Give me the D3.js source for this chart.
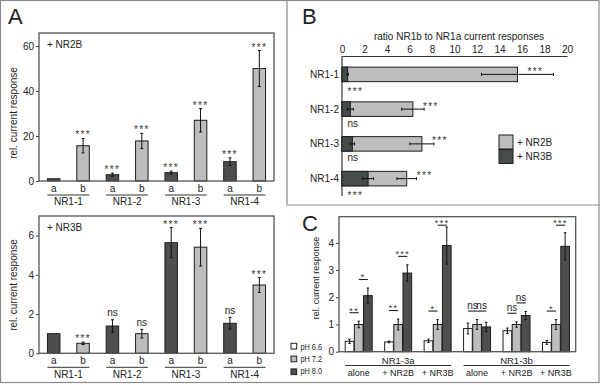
<!DOCTYPE html>
<html lang="en">
<head>
<meta charset="utf-8">
<title>NR1 splice variants: current responses</title>
<script src="https://cdn.jsdelivr.net/npm/d3@7"></script>
<style>
  body { margin: 0; background: #fff; }
  svg { display: block; font-family: Arial, "Liberation Sans", sans-serif; }
</style>
</head>
<body>
<script>
// ---- data ----
var isoforms = ["NR1-1", "NR1-2", "NR1-3", "NR1-4"];
var variants = ["a", "b"];

// panel A, + NR2B
var nr2bMeanA = [1.0, 2.8, 3.7, 8.6];
var nr2bErrA  = [0.0, 0.7, 0.7, 1.7];
var nr2bSigA  = ["", "***", "***", "***"];
var nr2bMeanB = [15.7, 17.8, 27.0, 50.0];
var nr2bErrB  = [3.2, 3.4, 5.2, 8.0];
var nr2bSigB  = ["***", "***", "***", "***"];

// panel A, + NR3B
var nr3bMeanA = [1.0, 1.39, 5.64, 1.53];
var nr3bErrA  = [0.0, 0.32, 0.77, 0.30];
var nr3bSigA  = ["", "ns", "***", "ns"];
var nr3bMeanB = [0.51, 1.0, 5.41, 3.48];
var nr3bErrB  = [0.06, 0.22, 0.96, 0.38];
var nr3bSigB  = ["***", "ns", "***", "***"];

// panel B, ratio NR1b / NR1a
var ratioNR2B    = [15.6, 6.3, 7.1, 5.75];
var ratioNR2BErr = [3.2, 1.0, 1.07, 0.87];
var ratioNR2BSig = ["***", "***", "***", "***"];
var ratioNR3B    = [0.5, 0.74, 0.92, 2.32];
var ratioNR3BErr = [0.06, 0.27, 0.2, 0.48];
var ratioNR3BSig = ["***", "ns", "ns", "***"];
var ratioTicks = [0, 2, 4, 6, 8, 10, 12, 14, 16, 18, 20];

// panel C, pH dependence
var subunitsC  = ["NR1-3a", "NR1-3b"];
var conditions = ["alone", "+ NR2B", "+ NR3B", "alone", "+ NR2B", "+ NR3B"];
var phLevels   = ["pH 6.6", "pH 7.2", "pH 8.0"];
var ph66    = [0.38, 0.36, 0.40, 0.85, 0.77, 0.34];
var ph66Err = [0.08, 0.03, 0.06, 0.20, 0.10, 0.07];
var ph72    = [1.0, 1.0, 1.0, 1.0, 1.0, 1.0];
var ph72Err = [0.12, 0.20, 0.18, 0.18, 0.10, 0.18];
var ph80    = [2.06, 2.89, 3.90, 0.91, 1.33, 3.87];
var ph80Err = [0.28, 0.30, 0.68, 0.17, 0.15, 0.50];
var sig66vs72 = ["**", "**", "*", "ns", "ns", "*"];
var sig72vs80 = ["*", "***", "***", "ns", "ns", "***"];

// ---- setup ----
var w = 600, h = 385;
var lightFill = "#bdbdbd", darkFill = "#4e4e4e", edge = "#1e1e1e", ink = "#222";
var intFmt = d3.format("d");

var svg = d3.select("body").append("svg")
  .attr("width", w)
  .attr("height", h);

// figure border and panel dividers
svg.append("rect")
  .attr("x", 0.5).attr("y", 0.5)
  .attr("width", 598.5).attr("height", 382)
  .attr("fill", "none").attr("stroke", "#8a8a8a").attr("stroke-width", 1.2);
svg.append("path")
  .attr("d", "M287,0V205H600")
  .attr("fill", "none").attr("stroke", "#8a8a8a").attr("stroke-width", 1.2);

function panelLetter(letter, x, y) {
  svg.append("text").attr("x", x).attr("y", y)
    .attr("font-size", 22).attr("fill", ink).text(letter);
}

// place a significance label so its visible centre sits at cy
function sigLabel(g, label, x, cy, size, anchor) {
  if (!label) return;
  var star = label.indexOf("*") >= 0;
  g.append("text")
    .attr("x", x)
    .attr("y", cy + (star ? 0.6 : 0.27) * size)
    .attr("text-anchor", anchor || "middle")
    .attr("font-size", size)
    .attr("letter-spacing", star ? 1.4 : 0)
    .attr("fill", star ? "#333" : ink)
    .text(label);
}

function styleAxis(sel, size) {
  sel.selectAll("text").attr("font-size", size).attr("fill", ink).attr("font-family", null);
  sel.selectAll("line").attr("stroke", "#444");
}

function yLabel(text, x, cy, size) {
  svg.append("text")
    .attr("transform", "translate(" + x + "," + cy + ") rotate(-90)")
    .attr("text-anchor", "middle")
    .attr("font-size", size)
    .attr("fill", ink)
    .text(text);
}

// ---- panel A ----
function drawA(top, bottom, yMax, ticks, means, errs, sigs, title, labelY) {
  var left = 39, right = 274;
  var x = d3.scaleBand().domain(isoforms).range([left, right]);
  var xs = d3.scalePoint().domain(variants).range([0, x.bandwidth()]).padding(0.5);
  var y = d3.scaleLinear().domain([0, yMax]).range([bottom, top]);
  var bw = 12.5;
  var g = svg.append("g");

  var rows = [];
  isoforms.forEach(function(c, i) {
    variants.forEach(function(v, j) {
      rows.push({ cat: c, sub: v, v: means[j][i], e: errs[j][i], sig: sigs[j][i] });
    });
  });

  var ax = g.append("g")
    .attr("transform", "translate(" + left + ",0)")
    .call(d3.axisLeft(y).tickValues(ticks).tickFormat(intFmt).tickSize(3).tickPadding(2));
  ax.select(".domain").remove();
  styleAxis(ax, 10);

  g.selectAll("rect.bar")
    .data(rows)
    .enter()
    .append("rect")
    .attr("class", "bar")
    .attr("x", function(d) { return x(d.cat) + xs(d.sub) - bw / 2; })
    .attr("y", function(d) { return y(d.v); })
    .attr("width", bw)
    .attr("height", function(d) { return bottom - y(d.v); })
    .attr("fill", function(d) { return d.sub === "a" ? darkFill : lightFill; })
    .attr("stroke", edge)
    .attr("stroke-width", 1);

  var eb = rows.filter(function(d) { return d.e > 0; });
  g.selectAll("line.err")
    .data(eb)
    .enter()
    .append("line")
    .attr("class", "err")
    .attr("x1", function(d) { return x(d.cat) + xs(d.sub); })
    .attr("x2", function(d) { return x(d.cat) + xs(d.sub); })
    .attr("y1", function(d) { return y(d.v + d.e); })
    .attr("y2", function(d) { return y(d.v - d.e); })
    .attr("stroke", "#111").attr("stroke-width", 1);
  eb.forEach(function(d) {
    var cx = x(d.cat) + xs(d.sub);
    [d.v + d.e, d.v - d.e].forEach(function(val) {
      g.append("line")
        .attr("x1", cx - 1.5).attr("x2", cx + 1.5)
        .attr("y1", y(val)).attr("y2", y(val))
        .attr("stroke", "#111").attr("stroke-width", 1);
    });
  });

  rows.forEach(function(d) {
    sigLabel(g, d.sig, x(d.cat) + xs(d.sub), y(d.v + d.e) - 6, 10);
  });

  // plot frame
  g.append("rect")
    .attr("x", left).attr("y", top)
    .attr("width", right - left).attr("height", bottom - top)
    .attr("fill", "none").attr("stroke", "#555").attr("stroke-width", 1.3);

  // category labels
  rows.forEach(function(d) {
    g.append("text")
      .attr("x", x(d.cat) + xs(d.sub))
      .attr("y", bottom + 11)
      .attr("text-anchor", "middle")
      .attr("font-size", 10).attr("fill", ink)
      .text(d.sub);
  });
  isoforms.forEach(function(c) {
    g.append("line")
      .attr("x1", x(c) + xs("a") - bw / 2).attr("x2", x(c) + xs("b") + bw / 2)
      .attr("y1", bottom + 14).attr("y2", bottom + 14)
      .attr("stroke", "#333").attr("stroke-width", 1);
    g.append("text")
      .attr("x", x(c) + x.bandwidth() / 2)
      .attr("y", bottom + 24.3)
      .attr("text-anchor", "middle")
      .attr("font-size", 10).attr("fill", ink)
      .text(c);
  });

  g.append("text")
    .attr("x", left + 8).attr("y", top + 15)
    .attr("font-size", 10).attr("fill", ink)
    .text(title);

  yLabel("rel. current response", 16.5, labelY, 10);
}

panelLetter("A", 8, 24);
drawA(33, 181, 65.8, [0, 20, 40, 60],
  [nr2bMeanA, nr2bMeanB], [nr2bErrA, nr2bErrB], [nr2bSigA, nr2bSigB], "+ NR2B", 113);
drawA(216, 353.3, 7.0, [0, 2, 4, 6],
  [nr3bMeanA, nr3bMeanB], [nr3bErrA, nr3bErrB], [nr3bSigA, nr3bSigB], "+ NR3B", 285);

// ---- panel B ----
panelLetter("B", 302, 24);
(function() {
  var g = svg.append("g");
  var x = d3.scaleLinear().domain([0, 20]).range([342, 567]);
  var y = d3.scaleBand().domain(isoforms).range([57, 196]);
  var bh = 14.5;
  function cy(c) { return y(c) + y.bandwidth() / 2; }

  var ax = g.append("g")
    .attr("transform", "translate(0,56)")
    .call(d3.axisTop(x).tickValues(ratioTicks).tickFormat(intFmt).tickSize(0).tickSizeOuter(0).tickPadding(3));
  ax.select(".domain").attr("stroke", "#333").attr("stroke-width", 1.2);
  styleAxis(ax, 10);

  g.append("line")
    .attr("x1", x(0)).attr("x2", x(0))
    .attr("y1", 56).attr("y2", 196)
    .attr("stroke", "#333").attr("stroke-width", 1.2);

  g.append("text")
    .attr("x", 459).attr("y", 40)
    .attr("text-anchor", "middle")
    .attr("font-size", 10).attr("fill", ink)
    .text("ratio NR1b to NR1a current responses");

  var series = [
    { vals: ratioNR2B, errs: ratioNR2BErr, fill: lightFill },
    { vals: ratioNR3B, errs: ratioNR3BErr, fill: "#464c4b" }
  ];
  series.forEach(function(s) {
    g.selectAll(null)
      .data(isoforms)
      .enter()
      .append("rect")
      .attr("x", x(0))
      .attr("y", function(c) { return cy(c) - bh / 2; })
      .attr("width", function(c, i) { return x(s.vals[i]) - x(0); })
      .attr("height", bh)
      .attr("fill", s.fill)
      .attr("stroke", edge).attr("stroke-width", 1);
  });
  series.forEach(function(s) {
    isoforms.forEach(function(c, i) {
      var lo = x(s.vals[i] - s.errs[i]), hi = x(s.vals[i] + s.errs[i]);
      g.append("line")
        .attr("x1", lo).attr("x2", hi)
        .attr("y1", cy(c)).attr("y2", cy(c))
        .attr("stroke", "#111").attr("stroke-width", 1);
      [lo, hi].forEach(function(px) {
        g.append("line")
          .attr("x1", px).attr("x2", px)
          .attr("y1", cy(c) - 1.5).attr("y2", cy(c) + 1.5)
          .attr("stroke", "#111").attr("stroke-width", 1);
      });
    });
  });

  isoforms.forEach(function(c, i) {
    g.append("text")
      .attr("x", 339).attr("y", cy(c) + 3.6)
      .attr("text-anchor", "end")
      .attr("font-size", 10).attr("fill", ink)
      .text(c);
    sigLabel(g, ratioNR2BSig[i], x(ratioNR2B[i]) + 10, cy(c) - 5.5, 10, "start");
    sigLabel(g, ratioNR3BSig[i], 347.5, cy(c) + bh / 2 + 7.5, 10, "start");
  });

  // legend
  var legend = [{ label: "+ NR2B", fill: lightFill }, { label: "+ NR3B", fill: "#464c4b" }];
  legend.forEach(function(d, i) {
    g.append("rect")
      .attr("x", 499).attr("y", 135 + i * 14.5)
      .attr("width", 14).attr("height", 14)
      .attr("fill", d.fill).attr("stroke", edge).attr("stroke-width", 1);
    g.append("text")
      .attr("x", 517).attr("y", 146 + i * 14)
      .attr("font-size", 10).attr("fill", ink)
      .text(d.label);
  });
})();

// ---- panel C ----
panelLetter("C", 302, 231);
(function() {
  var g = svg.append("g");
  var left = 339, right = 575.7, top = 216.7, bottom = 351.7;
  var x = d3.scaleBand().domain(d3.range(conditions.length)).range([left, right]);
  var xp = d3.scaleBand().domain(phLevels).range([-13.5, 13.5]).paddingInner(0.05);
  var y = d3.scaleLinear().domain([0, 4.96]).range([bottom, top]);
  var means = [ph66, ph72, ph80], errs = [ph66Err, ph72Err, ph80Err];
  var fills = ["#ffffff", lightFill, darkFill];
  function cx(i) { return x(i) + x.bandwidth() / 2; }

  var ax = g.append("g")
    .attr("transform", "translate(" + left + ",0)")
    .call(d3.axisLeft(y).tickValues([0, 1, 2, 3, 4]).tickFormat(intFmt).tickSize(3).tickPadding(2));
  ax.select(".domain").remove();
  styleAxis(ax, 10);

  var rows = [];
  conditions.forEach(function(c, i) {
    phLevels.forEach(function(p, k) {
      rows.push({ i: i, ph: p, k: k, v: means[k][i], e: errs[k][i] });
    });
  });
  function bx(d) { return cx(d.i) + xp(d.ph) + xp.bandwidth() / 2; }

  g.selectAll("rect.bar")
    .data(rows)
    .enter()
    .append("rect")
    .attr("class", "bar")
    .attr("x", function(d) { return cx(d.i) + xp(d.ph); })
    .attr("y", function(d) { return y(d.v); })
    .attr("width", xp.bandwidth())
    .attr("height", function(d) { return bottom - y(d.v); })
    .attr("fill", function(d) { return fills[d.k]; })
    .attr("stroke", edge).attr("stroke-width", 1);

  rows.forEach(function(d) {
    var px = bx(d);
    g.append("line")
      .attr("x1", px).attr("x2", px)
      .attr("y1", y(d.v + d.e)).attr("y2", y(d.v - d.e))
      .attr("stroke", "#111").attr("stroke-width", 1);
    [d.v + d.e, d.v - d.e].forEach(function(val) {
      g.append("line")
        .attr("x1", px - 1.2).attr("x2", px + 1.2)
        .attr("y1", y(val)).attr("y2", y(val))
        .attr("stroke", "#111").attr("stroke-width", 1);
    });
  });

  // significance brackets between neighbouring pH bars
  var sigs = [sig66vs72, sig72vs80];
  conditions.forEach(function(c, i) {
    [0, 1].forEach(function(k) {
      var a = rows[i * 3 + k], b = rows[i * 3 + k + 1];
      var ly = Math.min(y(a.v + a.e), y(b.v + b.e)) - 8.5;
      ly = Math.max(ly, top + 8.5);
      g.append("line")
        .attr("x1", bx(a)).attr("x2", bx(b))
        .attr("y1", ly).attr("y2", ly)
        .attr("stroke", "#222").attr("stroke-width", 1.1);
      var lab = sigs[k][i];
      sigLabel(g, lab, (bx(a) + bx(b)) / 2, ly - 4.5, lab === "ns" ? 10 : 9);
    });
  });

  g.append("rect")
    .attr("x", left).attr("y", top)
    .attr("width", right - left).attr("height", bottom - top)
    .attr("fill", "none").attr("stroke", "#555").attr("stroke-width", 1.3);

  // x labels
  conditions.forEach(function(c, i) {
    g.append("text")
      .attr("x", cx(i)).attr("y", 376)
      .attr("text-anchor", "middle")
      .attr("font-size", 9).attr("fill", ink)
      .text(c);
  });
  subunitsC.forEach(function(s, j) {
    var first = j * 3, last = j * 3 + 2;
    g.append("text")
      .attr("x", (cx(first) + cx(last)) / 2).attr("y", 363.5)
      .attr("text-anchor", "middle")
      .attr("font-size", 9.5).attr("fill", ink)
      .text(s);
    g.append("line")
      .attr("x1", cx(first) - 13.5).attr("x2", cx(last) + 13.5)
      .attr("y1", 365.5).attr("y2", 365.5)
      .attr("stroke", "#333").attr("stroke-width", 1);
  });

  yLabel("rel. current response", 318.5, 278, 9);

  // pH legend
  phLevels.forEach(function(p, k) {
    g.append("rect")
      .attr("x", 291).attr("y", 343.3 + k * 12.8)
      .attr("width", 5.7).attr("height", 5.7)
      .attr("fill", fills[k]).attr("stroke", edge).attr("stroke-width", 1);
    g.append("text")
      .attr("x", 300.5).attr("y", 350 + k * 12)
      .attr("font-size", 9).attr("fill", ink)
      .attr("textLength", 21.5).attr("lengthAdjust", "spacingAndGlyphs")
      .text(p);
  });
})();
</script>
</body>
</html>
